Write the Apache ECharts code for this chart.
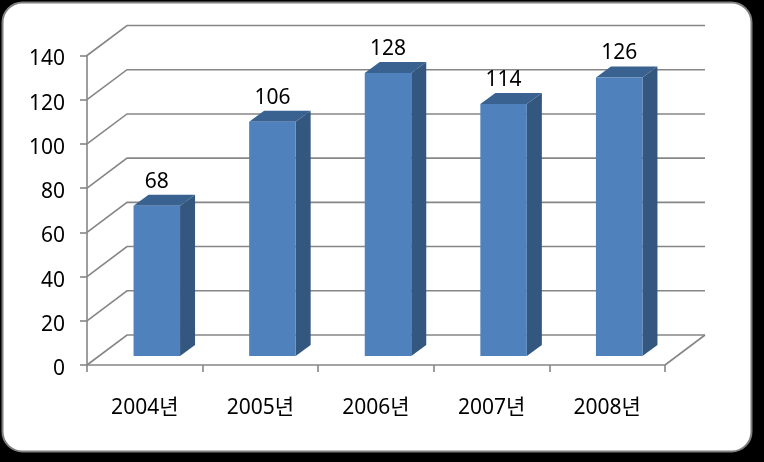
<!DOCTYPE html>
<html><head><meta charset="utf-8">
<style>html,body{margin:0;padding:0;background:#000}#c{width:764px;height:462px}</style>
<script src="https://cdn.jsdelivr.net/npm/echarts@6/dist/echarts.min.js"></script>
</head><body><div id="c"></div>
<script>
const categories = ['2004년','2005년','2006년','2007년','2008년'];
const values = [68,106,128,114,126];
const yTicks = [0,20,40,60,80,100,120,140];

const FONT = '"Noto Sans","Noto Sans CJK KR",sans-serif';
const wallDX = 40, wallDY = -30;     // perspective offset of back wall
const barDX = 12, barDY = -9;        // offset of bar front plane from axis plane
const depthDX = 15, depthDY = -11;   // bar depth
const barW = 46.5;
const GRID = '#868686';

const lineStyle = {stroke: GRID, lineWidth: 1.6, fill: null};

function renderWall(params, api){
  const cs = params.coordSys;
  const y = api.coord([0, api.value(1)])[1];
  const x0 = cs.x, x1 = cs.x + cs.width;
  return {type:'polyline', silent:true,
    shape:{points:[[x0,y],[x0+wallDX,y+wallDY],[x1+wallDX,y+wallDY]]},
    style:lineStyle};
}
function renderFloor(params, api){
  const cs = params.coordSys;
  const y = api.coord([0, 0])[1];
  const x1 = cs.x + cs.width;
  return {type:'line', silent:true,
    shape:{x1:x1,y1:y,x2:x1+wallDX,y2:y+wallDY},
    style:{stroke:GRID,lineWidth:1.6}};
}
function renderBar(params, api){
  const p = api.coord([api.value(0), api.value(1)]);
  const base = api.coord([api.value(0), 0]);
  const xl = p[0] + barDX - barW/2, xr = xl + barW;
  const yt = p[1] + barDY, yb = base[1] + barDY;
  return {type:'group', children:[
    {type:'polygon', shape:{points:[[xr,yt],[xr+depthDX,yt+depthDY],[xr+depthDX,yb+depthDY],[xr,yb]]},
      style:{fill:'#33577F'}},
    {type:'polygon', shape:{points:[[xl,yt],[xl+depthDX,yt+depthDY],[xr+depthDX,yt+depthDY],[xr,yt]]},
      style:{fill:'#3A6291'}},
    {type:'rect', shape:{x:xl,y:yt,width:barW,height:yb-yt},
      style:{fill:'#4F81BD'}},
    {type:'text', style:{x:xl+barW/2,y:yt+depthDY-13,text:String(api.value(1)),
      fill:'#000',font:'21px '+FONT,textAlign:'center',textVerticalAlign:'middle'}}
  ]};
}

const chart = echarts.init(document.getElementById('c'),null,{renderer:'canvas'});
chart.setOption({
  animation:false,
  backgroundColor:'#000',
  graphic:[{type:'rect',z:0,silent:true,shape:{x:2.5,y:2.5,width:749,height:449,r:20},
    style:{fill:'#fff',stroke:'#7f7f7f',lineWidth:2}}],
  grid:{left:87,right:99,top:55.5,bottom:97,containLabel:false},
  xAxis:{type:'category',data:categories,boundaryGap:true,z:5,
    axisLine:{show:true,lineStyle:{color:GRID,width:1.6}},
    axisTick:{show:true,alignWithLabel:false,length:7,lineStyle:{color:GRID,width:1.6}},
    axisLabel:{color:'#000',fontSize:21,fontFamily:FONT,margin:33,interval:0}},
  yAxis:{type:'value',min:0,max:140,interval:20,z:5,
    splitLine:{show:false},
    axisLine:{show:true,lineStyle:{color:GRID,width:1.6}},
    axisTick:{show:true,length:7,lineStyle:{color:GRID,width:1.6}},
    axisLabel:{color:'#000',fontSize:21,fontFamily:FONT,margin:22,verticalAlign:'top',lineHeight:8,hideOverlap:false}},
  series:[
    {type:'custom',z:1,renderItem:renderWall,data:yTicks.map(v=>[0,v]),encode:{x:0,y:1},silent:true},
    {type:'custom',z:1,renderItem:renderFloor,data:[[0,0]],encode:{x:0,y:1},silent:true},
    {type:'custom',z:2,renderItem:renderBar,data:values.map((v,i)=>[i,v]),encode:{x:0,y:1},clip:false}
  ]
});
</script></body></html>
